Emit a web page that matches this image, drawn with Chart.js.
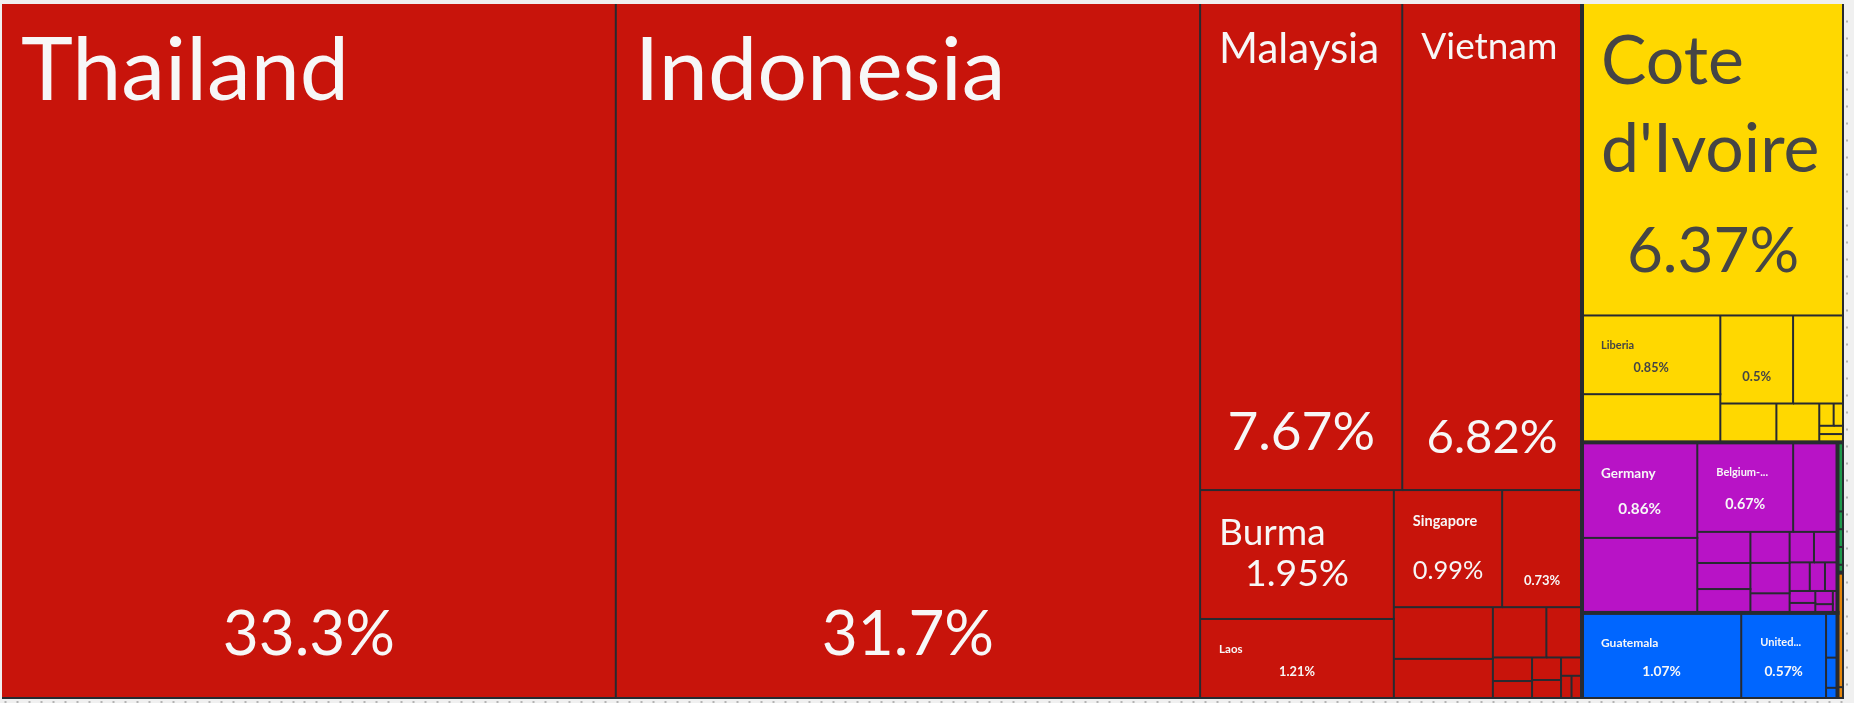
<!DOCTYPE html>
<html>
<head>
<meta charset="utf-8">
<script src="https://cdn.jsdelivr.net/npm/chart.js@4.4.1/dist/chart.umd.min.js"></script>
<style>
html,body{margin:0;padding:0;background:#f0f0f0;}
#wrap{width:1854px;height:703px;}
</style>
</head>
<body>
<div id="wrap"><canvas id="tree"></canvas></div>
<script>
// share of total (%), one list per region; '' = name not readable on the picture
const regions=['Asia','Africa','Europe','North America','Oceania','South America'];
const regionColors=['#c8140b','#ffd800','#b813c6','#0066ff','#1f9a4c','#e6870a'];
const regionText=['#f7f7f7','#454545','#f7f7f7','#f7f7f7','#f7f7f7','#f7f7f7'];

const asiaNames=['Thailand','Indonesia','Malaysia','Vietnam','Burma','Laos','Singapore','','','','','','','','','','','',''];
const asiaShares=[33.3,31.7,7.67,6.82,1.95,1.21,0.99,0.73,0.40,0.31,0.21,0.14,0.072,0.055,0.051,0.043,0.03,0.019,0.019];

const africaNames=["Cote d'Ivoire",'Liberia','','','','','','','','',''];
const africaShares=[6.37,0.85,0.52,0.5,0.35,0.17,0.13,0.025,0.018,0.016,0.016];

const europeNames=['Germany','','Belgium-Luxembourg','','','','','','','','','','','','','','','','',''];
const europeShares=[0.86,0.675,0.67,0.31,0.129,0.108,0.099,0.095,0.093,0.06,0.058,0.056,0.045,0.034,0.028,0.024,0.02,0.018,0.012,0.008];

const americasNames=['Guatemala','United States','','',''];
const americasShares=[1.07,0.57,0.04,0.027,0.01];

const oceaniaNames=['','','','',''];
const oceaniaShares=[0.035,0.009,0.009,0.009,0.004];

const southAmNames=['',''];
const southAmShares=[0.058,0.006];

const regionNames=[asiaNames,africaNames,europeNames,americasNames,oceaniaNames,southAmNames];
const regionShares=[asiaShares,africaShares,europeShares,americasShares,oceaniaShares,southAmShares];

// ruler marks along the bottom and right edges
const xRuler=Array.from({length:154},(_,k)=>(3+12*k)/1842*100);
const yRuler=Array.from({length:40},(_,k)=>(17.7+17*k)/695*100).filter(v=>v<=100);

const PHI=(1+Math.sqrt(5))/2;
function squarify(nodes,x0,y0,x1,y1){
  let value=nodes.reduce((s,n)=>s+n.value,0);
  let i0=0,i1=0;const n=nodes.length;
  while(i0<n){
    const dx=x1-x0,dy=y1-y0;
    let sum=nodes[i1++].value,minV=sum,maxV=sum;
    const alpha=Math.max(dy/dx,dx/dy)/(value*PHI);
    let beta=sum*sum*alpha;
    let minRatio=Math.max(maxV/beta,beta/minV);
    for(;i1<n;++i1){
      const v=nodes[i1].value;sum+=v;
      if(v<minV)minV=v;if(v>maxV)maxV=v;
      beta=sum*sum*alpha;
      const r=Math.max(maxV/beta,beta/minV);
      if(r>minRatio){sum-=v;break;}
      minRatio=r;
    }
    const row=nodes.slice(i0,i1);
    if(dx<dy){
      const yy=value?y0+dy*sum/value:y1;
      let xx=x0;const k=sum?(x1-x0)/sum:0;
      row.forEach(nd=>{nd.x0=xx;nd.x1=xx+=nd.value*k;nd.y0=y0;nd.y1=yy;});
      y0=yy;
    }else{
      const xx=value?x0+dx*sum/value:x1;
      let yy=y0;const k=sum?(y1-y0)/sum:0;
      row.forEach(nd=>{nd.x0=x0;nd.x1=xx;nd.y0=yy;nd.y1=yy+=nd.value*k;});
      x0=xx;
    }
    value-=sum;i0=i1;
  }
}

const font=fs=>`${fs<24?'bold ':''}${fs}px Lato, "Open Sans", sans-serif`;
const fmtShare=v=>parseFloat(v.toPrecision(3))+'%';

function wrapText(ctx,text,maxW,maxLines){
  const words=text.split(' ');const lines=[];let cur='';
  for(const w of words){
    if(ctx.measureText(w).width>maxW)return null;
    const t=cur?cur+' '+w:w;
    if(ctx.measureText(t).width<=maxW)cur=t;else{lines.push(cur);cur=w;}
  }
  lines.push(cur);
  return lines.length<=maxLines?lines:null;
}

function truncate(ctx,text,maxW){
  const cuts=[];
  for(let i=1;i<text.length;i++){
    if(text[i]===' ')cuts.push(text.slice(0,i));
    if(text[i-1]==='-')cuts.push(text.slice(0,i));
  }
  for(let i=cuts.length-1;i>=0;i--){
    const t=cuts[i]+'...';
    if(ctx.measureText(t).width<=maxW)return t;
  }
  return null;
}

function drawLabel(ctx,nd,color){
  const w=nd.x1-nd.x0,h=nd.y1-nd.y0;
  if(h<77||w<60)return;
  const padL=19,padW=21;
  const hLim=h>=110?0.29*h:0.145*h;
  let nameFs=0,lines=[];
  if(nd.name){
    const maxLines=h>200?3:1;
    for(let fs=Math.floor(Math.min(88,hLim)*2)/2;fs>=11;fs-=0.5){
      ctx.font=font(fs);
      const ls=wrapText(ctx,nd.name,w-2*padW,maxLines);
      if(ls&&ls.length*1.3*fs<=0.6*h){nameFs=fs;lines=ls;break;}
    }
    if(!nameFs){
      ctx.font=font(11);
      const t=truncate(ctx,nd.name,w-28);
      if(t){nameFs=11;lines=[t];}
    }
  }
  ctx.fillStyle=color;
  if(nameFs){
    ctx.font=font(nameFs);ctx.textAlign='left';ctx.textBaseline='alphabetic';
    lines.forEach((l,i)=>ctx.fillText(l,nd.x0+padL,nd.y0+24.6+0.81*nameFs+i*1.3*nameFs));
  }
  const share=fmtShare(nd.value);
  let sfs=Math.min(62,h>=110?0.29*h:0.16*h);
  if(!nd.name)sfs=Math.min(sfs,13);
  else if(nameFs)sfs=Math.min(sfs,1.75*nameFs);
  ctx.font=font(sfs);
  const sw=ctx.measureText(share).width;
  if(sw>0.73*w)sfs=sfs*0.73*w/sw;
  ctx.font=font(sfs);ctx.textAlign='center';
  ctx.fillText(share,(nd.x0+nd.x1)/2,nd.y1-(17+0.43*sfs));
}

const treemapPlugin={
  id:'treemap',
  afterDatasetsDraw(chart){
    const {ctx,chartArea:a,scales:{x,y}}=chart;
    const groups=regions.map((r,i)=>{
      const children=regionShares[i].map((v,j)=>({name:regionNames[i][j],value:v}))
        .sort((p,q)=>q.value-p.value);
      return {name:r,color:regionColors[i],text:regionText[i],children,
        value:children.reduce((s,c)=>s+c.value,0)};
    }).sort((p,q)=>q.value-p.value);
    squarify(groups,x.getPixelForValue(0),y.getPixelForValue(0),x.getPixelForValue(100),y.getPixelForValue(100));
    groups.forEach(g=>squarify(g.children,g.x0,g.y0,g.x1,g.y1));

    ctx.save();
    ctx.beginPath();ctx.rect(a.left,a.top,a.right-a.left,a.bottom-a.top);ctx.clip();
    const border='#272a30';
    groups.forEach(g=>g.children.forEach(c=>{
      ctx.fillStyle=g.color;ctx.fillRect(c.x0,c.y0,c.x1-c.x0,c.y1-c.y0);
    }));
    ctx.fillStyle=border;
    groups.forEach(g=>g.children.forEach(c=>{
      ctx.fillRect(c.x1-1,c.y0,2,c.y1-c.y0);
      ctx.fillRect(c.x0,c.y1-1,c.x1-c.x0+1,2);
    }));
    groups.forEach(g=>{
      ctx.fillRect(g.x1-2,g.y0,4,g.y1-g.y0);
      ctx.fillRect(g.x0,g.y1-2,g.x1-g.x0+2,4);
    });
    groups.forEach(g=>g.children.forEach(c=>drawLabel(ctx,c,g.text)));
    ctx.restore();
  }
};

const rulerGrid={drawOnChartArea:false,drawTicks:true,tickLength:4,tickWidth:2,
  tickColor:'#b4b4b4',tickBorderDash:[2,2],tickBorderDashOffset:2};

new Chart(document.getElementById('tree'),{
  type:'scatter',
  data:{datasets:[{data:[]}]},
  options:{
    responsive:true,maintainAspectRatio:false,animation:false,
    layout:{padding:{left:2,top:4,right:6,bottom:0}},
    plugins:{legend:{display:false},tooltip:{enabled:false}},
    scales:{
      x:{type:'linear',min:0,max:100,position:'bottom',border:{display:false},
        grid:rulerGrid,ticks:{display:false},
        afterBuildTicks:s=>{s.ticks=xRuler.map(v=>({value:v}));}},
      y:{type:'linear',min:0,max:100,reverse:true,position:'right',border:{display:false},
        grid:rulerGrid,ticks:{display:false},
        afterBuildTicks:s=>{s.ticks=yRuler.map(v=>({value:v}));}}
    }
  },
  plugins:[treemapPlugin]
});
</script>
</body>
</html>
